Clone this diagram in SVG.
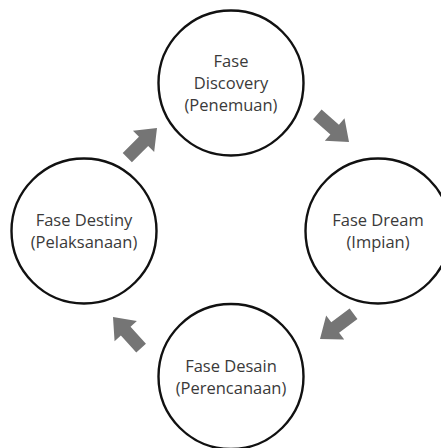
<svg xmlns="http://www.w3.org/2000/svg" width="441" height="448" viewBox="0 0 441 448">
  <style>
    .node circle { fill: #ffffff; stroke: #111111; stroke-width: 2.4; }
    .node text { font-family: "Open Sans", "Liberation Sans", sans-serif; font-size: 16.5px; fill: #3a3a3a; text-anchor: middle; }
    .arrow { fill: #757575; }
  </style>
  <defs>
    <polygon id="blockArrow" points="0,0 -19,-15 -19,-6.5 -42,-6.5 -42,6.5 -19,6.5 -19,15"/>
  </defs>
  <rect width="441" height="448" fill="#ffffff"/>
  <g id="connectors">
    <use href="#blockArrow" class="arrow" transform="translate(157,128) rotate(-45)"/>
    <use href="#blockArrow" class="arrow" transform="translate(349,142) rotate(41)"/>
    <use href="#blockArrow" class="arrow" transform="translate(320,339) rotate(143)"/>
    <use href="#blockArrow" class="arrow" transform="translate(113,317) rotate(228)"/>
  </g>
  <g id="node-discovery" class="node">
    <circle cx="231" cy="83" r="72.5"/>
    <text x="231" y="67">Fase</text>
    <text x="231" y="89">Discovery</text>
    <text x="231" y="111">(Penemuan)</text>
  </g>
  <g id="node-dream" class="node">
    <circle cx="378" cy="231" r="72.5"/>
    <text x="378" y="226">Fase Dream</text>
    <text x="378" y="248">(Impian)</text>
  </g>
  <g id="node-desain" class="node">
    <circle cx="231" cy="376.5" r="72.5"/>
    <text x="231" y="372">Fase Desain</text>
    <text x="231" y="394">(Perencanaan)</text>
  </g>
  <g id="node-destiny" class="node">
    <circle cx="84" cy="231" r="72.5"/>
    <text x="84" y="226">Fase Destiny</text>
    <text x="84" y="248">(Pelaksanaan)</text>
  </g>
</svg>
